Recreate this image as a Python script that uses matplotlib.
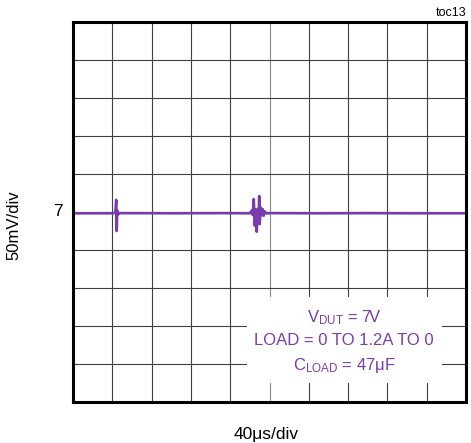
import matplotlib.pyplot as plt
from matplotlib.patches import Rectangle

# font: Arial-like
plt.rcParams['font.family'] = ['Liberation Sans', 'DejaVu Sans']
plt.rcParams['mathtext.fontset'] = 'custom'
plt.rcParams['mathtext.rm'] = 'Liberation Sans'
plt.rcParams['mathtext.it'] = 'Liberation Sans'

purple = '#7a3cad'

# scope trace: time (us), deviation (mV)
t_us = [0, 40, 43, 44, 44.5, 45, 46, 47, 50, 100, 150, 180, 182, 183,
        184, 185, 186, 187, 188, 189, 189.5, 190, 191, 192, 193, 194, 195,
        197, 200, 250, 300, 350, 400]
v_mv = [-1.7, -1.7, -1.0, 16, -25, 2, -3, -1.7, -1.5, -1.7, -1.5, -1.7, 2, -4,
        17, -18, 3, -26, 4, -8, 21, -16, 6, -4, 4, -5, 1,
        -2, -1.5, -1.7, -1.5, -1.7, -1.7]

x_ticks = [i * 40 for i in range(11)]
y_ticks = [i * 50 for i in range(-5, 6)]

fig = plt.figure(figsize=(4.71, 4.43), dpi=100)
ax = fig.add_axes([73 / 471, 41 / 443, 393 / 471, 380 / 443])

ax.set_xlim(0, 400)
ax.set_ylim(-250, 250)

for xt in x_ticks[1:-1]:
    ax.axvline(xt, color='#888888' if xt == 200 else '#404040', lw=0.8, zorder=1)
for yt in y_ticks[1:-1]:
    ax.axhline(yt, color='#404040', lw=0.8, zorder=1)

# white legend area inside the grid
ax.add_patch(Rectangle((177, -225), 198.5, 113, facecolor='white',
                       edgecolor='none', zorder=2))

ax.plot(t_us, v_mv, color=purple, lw=1.9, zorder=3, solid_joinstyle='round')

ax.set_xticks([])
ax.set_yticks([])
for s in ax.spines.values():
    s.set_linewidth(2.2)
    s.set_zorder(5)

ax.text(-10, 0, '7', ha='right', va='center', fontsize=12.5)
fig.text(14 / 471, 1 - 225 / 443, '50mV/div', rotation=90, ha='center',
         va='center', fontsize=12)
fig.text(266 / 471, 1 - 434 / 443, '40\u03bcs/div', ha='center', va='center',
         fontsize=12.5)
fig.text(466 / 471, 1 - 13 / 443, 'toc13', ha='right', va='center', fontsize=9)

ax.text(276, -139.5, r'$\mathrm{V_{DUT}}$ = 7V', ha='center', va='center',
        color=purple, fontsize=12, zorder=4)
ax.text(275.5, -168.5, 'LOAD = 0 TO 1.2A TO 0', ha='center', va='center',
        color=purple, fontsize=12, zorder=4)
ax.text(276, -202.5, r'$\mathrm{C_{LOAD}}$ = 47' + '\u03bcF',
        ha='center', va='center', color=purple, fontsize=12, zorder=4)

fig.savefig('out.png', dpi=100)
